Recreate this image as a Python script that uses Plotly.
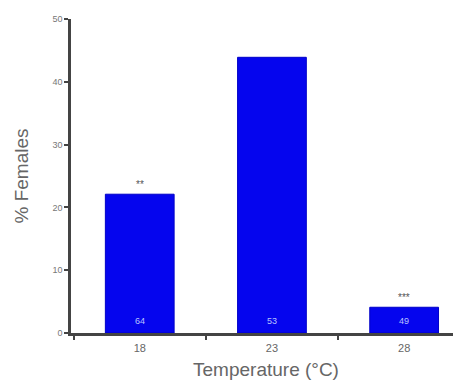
import plotly.graph_objects as go

temperatures = ["18", "23", "28"]
pct_females = [22.1, 43.9, 4.1]
sample_sizes = ["64", "53", "49"]
significance = ["**", "", "***"]
y_ticks = [0, 10, 20, 30, 40, 50]

fig = go.Figure()
fig.add_trace(go.Bar(
    x=temperatures, y=pct_females,
    marker=dict(color="#0505ee", line=dict(color="#0000c8", width=1)),
    width=0.52, showlegend=False, hoverinfo="skip",
))

annotations = []
for i, (v, n, s) in enumerate(zip(pct_females, sample_sizes, significance)):
    annotations.append(dict(x=i, y=0, xref="x", yref="y", yanchor="bottom", yshift=5,
                            text=n, showarrow=False,
                            font=dict(size=9, color="#b8c4ff")))
    if s:
        annotations.append(dict(x=i, y=v, xref="x", yref="y", yanchor="bottom", yshift=2,
                                text=s, showarrow=False,
                                font=dict(size=10, color="#555555")))

# page body has an 8px margin, so the figure is shrunk by 8px and offsets reduced
fig.update_layout(
    width=453, height=372,
    margin=dict(l=63, r=0, t=11, b=47),
    paper_bgcolor="white", plot_bgcolor="white",
    font=dict(family="Liberation Sans, Arial, sans-serif", color="#707070"),
    annotations=annotations,
    xaxis=dict(
        type="category", range=[-0.52, 2.43], tickson="boundaries",
        ticks="outside", ticklen=4, tickwidth=1.5, tickcolor="#444444",
        showline=True, linecolor="#444444", linewidth=2.5,
        showgrid=False, zeroline=False, automargin=False,
        ticklabelstandoff=3,
        tickfont=dict(size=11, color="#666666"),
        title=dict(text="Temperature (°C)", font=dict(size=19, color="#666666"), standoff=12),
    ),
    yaxis=dict(
        range=[0, 50], tickvals=y_ticks,
        ticks="outside", ticklen=4, tickwidth=2, tickcolor="#444444",
        showline=True, linecolor="#444444", linewidth=2.5,
        showgrid=False, zeroline=False, automargin=False,
        tickfont=dict(size=9, color="#777777"),
        title=dict(text="% Females", font=dict(size=19, color="#666666"), standoff=19),
    ),
    bargap=0.48,
)

fig.write_html("out.html")
